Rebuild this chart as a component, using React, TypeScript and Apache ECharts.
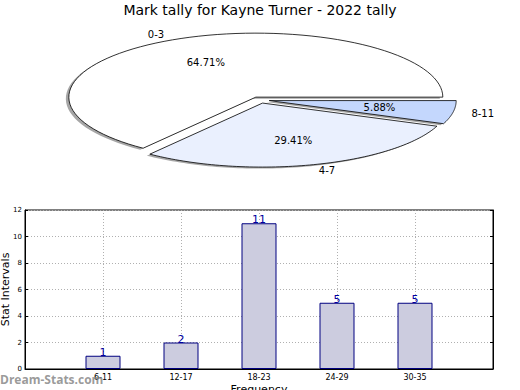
import React, { useEffect, useRef } from "react";
import * as echarts from "echarts";

const titleText = "Mark tally for Kayne Turner - 2022 tally";
const pieCategories = ["0-3", "4-7", "8-11"];
const pieValues = [11, 5, 1];
const pieColors = ["#ffffff", "#eaf0fe", "#c4d7fd"];

const barCategories = ["6-11", "12-17", "18-23", "24-29", "30-35"];
const barValues = [1, 2, 11, 5, 5];

const FONT = "DejaVu Sans";

export default function App() {
  const ref = useRef<HTMLDivElement>(null);
  useEffect(() => {
    if (!ref.current) return;
    const chart = echarts.init(ref.current, null, { renderer: "svg" });
    const total = pieValues.reduce((a, b) => a + b, 0);
    const starts: number[] = [];
    let acc = 0;
    pieValues.forEach((v) => {
      starts.push(acc);
      acc += v;
    });
    const cx = 260, cy = 100, rx = 187, ry = 64, explode = 0.05;
    const shOx = -3, shOy = 1.5;

    const renderItem = (params: any, api: any) => {
      const i = params.dataIndex;
      const v = api.value(0);
      const a0 = (starts[i] / total) * Math.PI * 2;
      const a1 = ((starts[i] + v) / total) * Math.PI * 2;
      const mid = (a0 + a1) / 2;
      const ox = cx + explode * rx * Math.cos(mid);
      const oy = cy - explode * ry * Math.sin(mid);
      const pts: number[][] = [[ox, oy]];
      const n = 80;
      for (let k = 0; k <= n; k++) {
        const t = a0 + ((a1 - a0) * k) / n;
        pts.push([ox + rx * Math.cos(t), oy - ry * Math.sin(t)]);
      }
      const shPts = pts.map((p) => [p[0] + shOx, p[1] + shOy]);
      const pct = ((v / total) * 100).toFixed(2) + "%";
      const lx = ox + 1.1 * rx * Math.cos(mid);
      const ly = oy - 1.1 * ry * Math.sin(mid);
      const px = ox + 0.6 * rx * Math.cos(mid);
      const py = oy - 0.6 * ry * Math.sin(mid);
      return {
        type: "group",
        children: [
          {
            type: "polygon",
            z2: 1,
            shape: { points: shPts },
            style: { fill: "rgba(77,77,77,0.5)", stroke: "none" },
          },
          {
            type: "polygon",
            z2: 10,
            shape: { points: pts },
            style: { fill: pieColors[i], stroke: "#000", lineWidth: 0.8 },
          },
          {
            type: "text",
            z2: 20,
            x: px,
            y: py,
            style: {
              text: pct,
              fontFamily: FONT,
              fontSize: 10,
              fill: "#000",
              align: "center",
              verticalAlign: "middle",
            },
          },
          {
            type: "text",
            z2: 20,
            x: lx,
            y: ly,
            style: {
              text: pieCategories[i],
              fontFamily: FONT,
              fontSize: 10,
              fill: "#000",
              align: Math.cos(mid) > 0 ? "left" : "right",
              verticalAlign: "middle",
            },
          },
        ],
      };
    };

    chart.setOption({
      animation: false,
      title: {
        text: titleText,
        left: "center",
        top: -2,
        textStyle: { fontFamily: FONT, fontSize: 14, fontWeight: "normal", color: "#000" },
      },
      grid: {
        left: 25,
        right: 27,
        top: 210,
        bottom: 21,
        outerBoundsMode: "none",
        containLabel: false,
        show: true,
        borderColor: "#000",
        borderWidth: 1,
      },
      xAxis: {
        type: "value",
        min: 0,
        max: barCategories.length + 1,
        interval: 1,
        name: "Frequency",
        nameLocation: "middle",
        nameGap: 15,
        nameMoveOverlap: false,
        nameTextStyle: { fontFamily: FONT, fontSize: 11, color: "#000", verticalAlign: "top" },
        axisLine: { show: true, lineStyle: { color: "#000" } },
        axisTick: { show: true, inside: true, length: 3, lineStyle: { color: "#000" } },
        axisLabel: {
          fontFamily: FONT,
          fontSize: 8,
          color: "#000",
          margin: 4,
          formatter: (v: number) => barCategories[v - 1] ?? "",
        },
        splitLine: { show: true, lineStyle: { color: "#b0b0b0", type: [1, 2] } },
      },
      yAxis: [
        {
          type: "value",
          min: 0,
          max: 12,
          interval: 2,
          name: "Stat Intervals",
          nameLocation: "middle",
          nameGap: 14,
          nameMoveOverlap: false,
          nameTextStyle: { fontFamily: FONT, fontSize: 11, color: "#000" },
          axisLine: { show: true, lineStyle: { color: "#000" } },
          axisTick: { show: true, inside: true, length: 3, lineStyle: { color: "#000" } },
          axisLabel: { fontFamily: FONT, fontSize: 7, color: "#000", margin: 3 },
          splitLine: { show: true, lineStyle: { color: "#b0b0b0", type: [1, 2] } },
        },
        {
          type: "value",
          min: 0,
          max: 12,
          interval: 2,
          position: "right",
          axisLine: { show: true, lineStyle: { color: "#000" } },
          axisTick: { show: true, inside: true, length: 3, lineStyle: { color: "#000" } },
          axisLabel: { show: false },
          splitLine: { show: false },
        },
      ],
      graphic: [
        {
          type: "text",
          left: 0,
          top: 373,
          z: 100,
          style: {
            text: "Dream-Stats.com",
            fontFamily: "Open Sans",
            fontWeight: "bold",
            fontSize: 12,
            fill: "rgba(128,128,128,0.8)",
          },
        },
      ],
      series: [
        {
          type: "custom",
          coordinateSystem: "none",
          renderItem,
          data: pieValues.map((v) => [v]),
          silent: true,
        },
        {
          type: "bar",
          xAxisIndex: 0,
          yAxisIndex: 0,
          barWidth: 35,
          data: barValues.map((v, i) => [i + 1, v]),
          itemStyle: { color: "#ccccdf", borderColor: "#000080", borderWidth: 1 },
          label: {
            show: true,
            position: "top",
            distance: -2,
            fontFamily: FONT,
            fontSize: 11,
            color: "#0000a0",
            formatter: (p: any) => String(p.value[1]),
          },
        },
      ],
    });
    return () => chart.dispose();
  }, []);
  return (
    <div
      ref={ref}
      style={{ position: "absolute", left: 0, top: 0, width: 520, height: 390 }}
    />
  );
}
